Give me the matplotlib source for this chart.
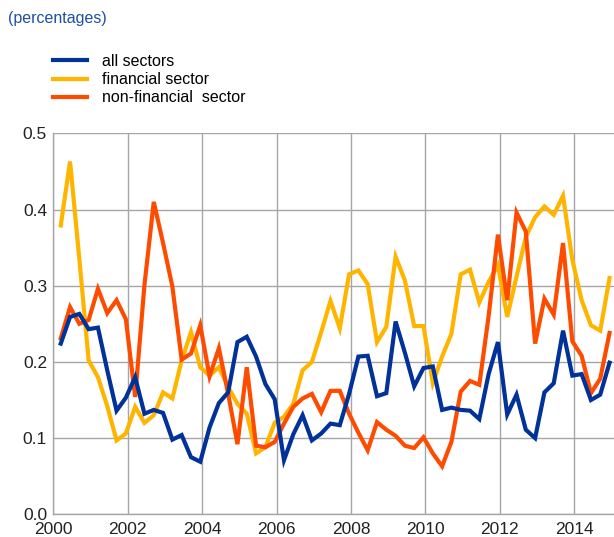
import numpy as np
import matplotlib
matplotlib.use("Agg")
import matplotlib.pyplot as plt

plt.rcParams['font.family'] = ['Liberation Sans', 'DejaVu Sans']

# Quarterly observations, Q1 2000 .. Q4 2014
quarters = [f"{y}Q{q}" for y in range(2000, 2015) for q in range(1, 5)]

all_sectors = [0.224, 0.259, 0.263, 0.243, 0.245, 0.189, 0.136, 0.153, 0.180, 0.132,
               0.137, 0.133, 0.098, 0.104, 0.075, 0.069, 0.114, 0.146, 0.160, 0.226,
               0.233, 0.207, 0.171, 0.151, 0.071, 0.105, 0.130, 0.097, 0.106, 0.119,
               0.117, 0.158, 0.207, 0.208, 0.155, 0.159, 0.253, 0.212, 0.168, 0.192,
               0.194, 0.137, 0.140, 0.137, 0.136, 0.125, 0.184, 0.226, 0.131, 0.157,
               0.111, 0.100, 0.160, 0.172, 0.241, 0.182, 0.184, 0.150, 0.157, 0.199]

financial = [0.379, 0.463, 0.335, 0.202, 0.180, 0.142, 0.097, 0.106, 0.141, 0.120,
             0.130, 0.160, 0.152, 0.202, 0.239, 0.193, 0.182, 0.193, 0.167, 0.145,
             0.132, 0.080, 0.088, 0.120, 0.128, 0.145, 0.189, 0.200, 0.239, 0.280,
             0.244, 0.315, 0.320, 0.302, 0.226, 0.246, 0.338, 0.307, 0.247, 0.247,
             0.172, 0.207, 0.237, 0.315, 0.321, 0.278, 0.305, 0.327, 0.259, 0.312,
             0.364, 0.390, 0.404, 0.393, 0.418, 0.334, 0.281, 0.248, 0.241, 0.310]

non_financial = [0.231, 0.272, 0.250, 0.255, 0.296, 0.264, 0.281, 0.256, 0.154, 0.301,
                 0.410, 0.356, 0.299, 0.203, 0.211, 0.248, 0.181, 0.218, 0.158, 0.092,
                 0.193, 0.090, 0.088, 0.095, 0.119, 0.141, 0.152, 0.158, 0.134, 0.162,
                 0.162, 0.132, 0.107, 0.084, 0.121, 0.111, 0.103, 0.090, 0.087, 0.101,
                 0.080, 0.063, 0.095, 0.161, 0.175, 0.170, 0.260, 0.367, 0.281, 0.396,
                 0.371, 0.224, 0.283, 0.262, 0.356, 0.227, 0.208, 0.159, 0.178, 0.238]

series_labels = ["all sectors", "financial sector", "non-financial  sector"]
x_ticks = [2000, 2002, 2004, 2006, 2008, 2010, 2012, 2014]
y_ticks = [0.0, 0.1, 0.2, 0.3, 0.4, 0.5]

x = np.array([int(s[:4]) + (int(s[-1]) - 1) * 0.25 + 0.2 for s in quarters])

c_blue = "#003299"
c_yellow = "#FFB400"
c_orange = "#FF4B00"
grid_c = "#A6A6A6"

fig = plt.figure(figsize=(6.14, 5.37), dpi=100)
ax = fig.add_axes([53.3 / 614, 1 - 514.3 / 537, 1 - 53.3 / 614, (514.3 - 133.3) / 537])

l_fin, = ax.plot(x, financial, color=c_yellow, lw=3.0, solid_joinstyle='miter', zorder=3)
l_non, = ax.plot(x, non_financial, color=c_orange, lw=3.0, solid_joinstyle='miter', zorder=4)
l_all, = ax.plot(x, all_sectors, color=c_blue, lw=3.0, solid_joinstyle='miter', zorder=5)

ax.set_xlim(2000, 2015.07)
ax.set_ylim(0, 0.5)
ax.set_xticks(x_ticks)
ax.set_xticklabels([str(t) for t in x_ticks])
ax.set_yticks(y_ticks)
ax.set_yticklabels([f"{t:.1f}" for t in y_ticks])
ax.grid(True, color=grid_c, lw=1.0)
ax.set_axisbelow(True)
for s in ["top", "right"]:
    ax.spines[s].set_visible(False)
for s in ["left", "bottom"]:
    ax.spines[s].set_color(grid_c)
    ax.spines[s].set_linewidth(1.0)
ax.tick_params(length=0, labelsize=12.5, colors="#222222")
ax.tick_params(axis='y', pad=4.5)
ax.tick_params(axis='x', pad=5.2)

fig.text(8 / 614, 1 - 18 / 537, "(percentages)", color="#1F4FA3", fontsize=11.5,
         ha="left", va="center")

fig.legend([l_all, l_fin, l_non], series_labels, loc="upper left",
           bbox_to_anchor=(53 / 614, 1 - 54 / 537), frameon=False, fontsize=11.5,
           handlelength=2.1, handletextpad=0.95, labelspacing=0.2,
           borderpad=0, borderaxespad=0)

fig.savefig("out.png", dpi=100)
